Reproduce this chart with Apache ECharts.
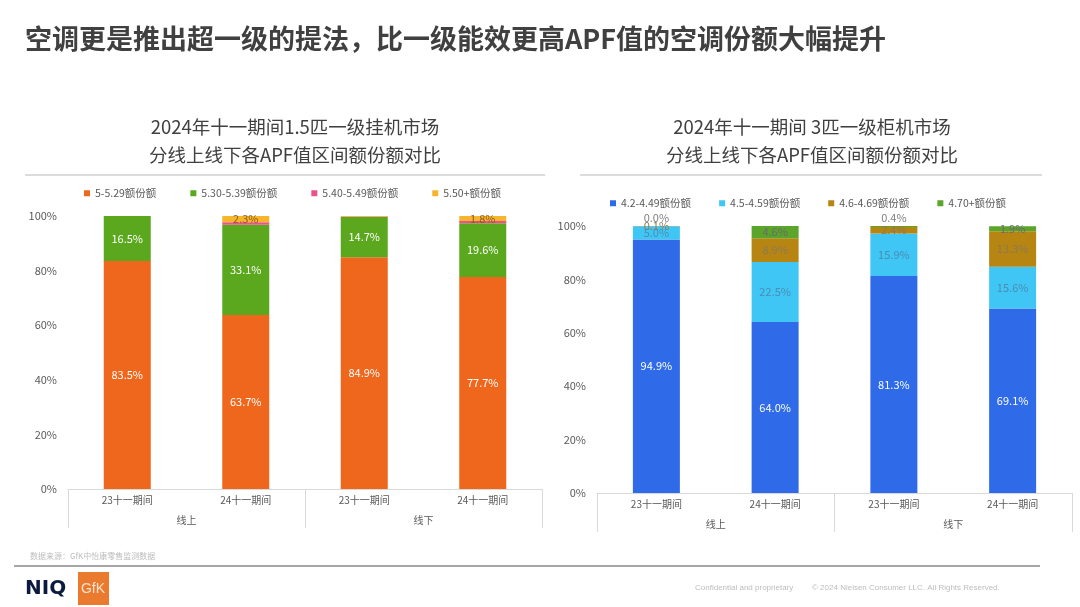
<!DOCTYPE html>
<html><head><meta charset="utf-8">
<script src="https://cdn.jsdelivr.net/npm/echarts@6/dist/echarts.min.js"></script>
<style>html,body{margin:0;padding:0;background:#fff}#c{width:1080px;height:607px}</style>
</head><body><div id="c"></div>
<script>
const periods = ['23十一期间','24十一期间','23十一期间','24十一期间'];
const channels = ['线上','线下'];
const yTicks = [0,20,40,60,80,100];

// Left: 1.5匹一级挂机
const leftNames = ['5-5.29额份额','5.30-5.39额份额','5.40-5.49额份额','5.50+额份额'];
const l_5_529   = [83.5, 63.7, 84.9, 77.7];
const l_530_539 = [16.5, 33.1, 14.7, 19.6];
const l_540_549 = [0.0, 0.9, 0.2, 0.9];
const l_550p    = [0.0, 2.3, 0.2, 1.8];

// Right: 3匹一级柜机
const rightNames = ['4.2-4.49额份额','4.5-4.59额份额','4.6-4.69额份额','4.70+额份额'];
const r_42_449 = [94.9, 64.0, 81.3, 69.1];
const r_45_459 = [5.0, 22.5, 15.9, 15.6];
const r_46_469 = [0.1, 8.9, 2.4, 13.3];
const r_470p   = [0.0, 4.6, 0.4, 1.9];

const FONT = '"Noto Sans CJK SC","Noto Sans",sans-serif';
const fmt = v => v.toFixed(1) + '%';

function leftSeries(name, data, color, labelColor) {
  return {
    name, type: 'bar', stack: 'L', xAxisIndex: 0, yAxisIndex: 0, barWidth: 47,
    itemStyle: { color },
    label: { show: true, position: 'inside', color: labelColor, fontSize: 11, fontFamily: FONT,
      formatter: p => p.value >= 1 ? fmt(p.value) : '' },
    data
  };
}
function rightSeries(name, data, color, labelColor, smallTop) {
  return {
    name, type: 'bar', stack: 'R', xAxisIndex: 2, yAxisIndex: 1, barWidth: 47,
    itemStyle: { color },
    label: { show: true, position: 'inside', color: labelColor, fontSize: 11, fontFamily: FONT,
      formatter: p => fmt(p.value) },
    data: data.map(v => (smallTop && v < 1)
      ? { value: v, label: { position: 'top', distance: 3, color: '#7f7f7f' } }
      : v)
  };
}

function catAxis(gridIndex) {
  return {
    type: 'category', gridIndex, data: periods, position: 'bottom',
    axisLine: { show: true, lineStyle: { color: '#d9d9d9' } },
    axisTick: { show: false },
    axisLabel: { color: '#595959', fontSize: 10, margin: 6, fontFamily: FONT }
  };
}
function groupAxis(gridIndex) {
  return {
    type: 'category', gridIndex, data: channels, position: 'bottom',
    axisLine: { show: false },
    axisTick: { show: true, length: 39, lineStyle: { color: '#d9d9d9' } },
    axisLabel: { color: '#595959', fontSize: 10, margin: 26, fontFamily: FONT }
  };
}
function valAxis(gridIndex) {
  return {
    type: 'value', gridIndex, min: yTicks[0], max: yTicks[yTicks.length-1], interval: 20,
    axisLine: { show: false }, axisTick: { show: false }, splitLine: { show: false },
    axisLabel: { color: '#595959', fontSize: 11, margin: 11, formatter: '{value}%', fontFamily: FONT }
  };
}

const chart = echarts.init(document.getElementById('c'));
chart.setOption({
  backgroundColor: '#fff',
  animation: false,
  textStyle: { fontFamily: FONT },
  grid: [
    { left: 68, right: 538, top: 216, height: 273 },
    { left: 597, right: 8, top: 226, height: 267 }
  ],
  xAxis: [catAxis(0), groupAxis(0), catAxis(1), groupAxis(1)],
  yAxis: [valAxis(0), valAxis(1)],
  legend: [
    { data: leftNames, left: 79, top: 183, icon: 'rect', itemWidth: 6, itemHeight: 6, itemGap: 34,
      textStyle: { color: '#595959', fontSize: 10.5, fontFamily: FONT } },
    { data: rightNames, left: 605, top: 193, icon: 'rect', itemWidth: 6, itemHeight: 6, itemGap: 28,
      textStyle: { color: '#595959', fontSize: 10.5, fontFamily: FONT } }
  ],
  series: [
    leftSeries(leftNames[0], l_5_529, '#EF671D', '#fff'),
    leftSeries(leftNames[1], l_530_539, '#5BA81E', '#fff'),
    leftSeries(leftNames[2], l_540_549, '#E9528A', '#fff'),
    leftSeries(leftNames[3], l_550p, '#F7B52C', '#8a5a20'),
    rightSeries(rightNames[0], r_42_449, '#2F6BE8', '#fff', false),
    rightSeries(rightNames[1], r_45_459, '#3FC6F4', '#4a8db5', false),
    rightSeries(rightNames[2], r_46_469, '#B78512', '#8c7a55', false),
    rightSeries(rightNames[3], r_470p, '#5AA52A', '#6b6b6b', true)
  ],
  graphic: [
    { type: 'text', left: 25, top: 25, style: { text: '空调更是推出超一级的提法，比一级能效更高APF值的空调份额大幅提升',
      font: 'bold 27px ' + FONT, fill: '#404040' } },
    { type: 'text', x: 295, y: 127, style: { text: '2024年十一期间1.5匹一级挂机市场', font: '18.5px ' + FONT, fill: '#404040', align: 'center', verticalAlign: 'middle' } },
    { type: 'text', x: 295, y: 155, style: { text: '分线上线下各APF值区间额份额对比', font: '18.5px ' + FONT, fill: '#404040', align: 'center', verticalAlign: 'middle' } },
    { type: 'text', x: 812, y: 127, style: { text: '2024年十一期间 3匹一级柜机市场', font: '18.5px ' + FONT, fill: '#404040', align: 'center', verticalAlign: 'middle' } },
    { type: 'text', x: 812, y: 155, style: { text: '分线上线下各APF值区间额份额对比', font: '18.5px ' + FONT, fill: '#404040', align: 'center', verticalAlign: 'middle' } },
    { type: 'line', shape: { x1: 25, y1: 175, x2: 545, y2: 175 }, style: { stroke: '#d0d0d0', lineWidth: 1.5 } },
    { type: 'line', shape: { x1: 580, y1: 175, x2: 1042, y2: 175 }, style: { stroke: '#d0d0d0', lineWidth: 1.5 } },
    { type: 'text', x: 30, y: 556, style: { text: '数据来源：GfK中怡康零售监测数据', font: '8px ' + FONT, fill: '#bdbdbd', verticalAlign: 'middle' } },
    { type: 'line', shape: { x1: 14, y1: 566, x2: 1040, y2: 566 }, style: { stroke: '#a6a6a6', lineWidth: 2 } },
    { type: 'text', x: 25, y: 589, style: { text: 'NIQ', font: 'bold 20px "DejaVu Sans",sans-serif', fill: '#0b1b3f', verticalAlign: 'middle' } },
    { type: 'rect', shape: { x: 78, y: 572, width: 31, height: 33 }, style: { fill: '#EA7A2E' } },
    { type: 'text', x: 93, y: 589, style: { text: 'GfK', font: '14px "Liberation Sans",sans-serif', fill: '#fde3cf', align: 'center', verticalAlign: 'middle' } },
    { type: 'text', x: 695, y: 588, style: { text: 'Confidential and proprietary', font: '8px "Liberation Sans",sans-serif', fill: '#bdbdbd', verticalAlign: 'middle' } },
    { type: 'text', x: 812, y: 588, style: { text: '© 2024 Nielsen Consumer LLC. All Rights Reserved.', font: '8px "Liberation Sans",sans-serif', fill: '#bdbdbd', verticalAlign: 'middle' } }
  ]
});
</script>
</body></html>
